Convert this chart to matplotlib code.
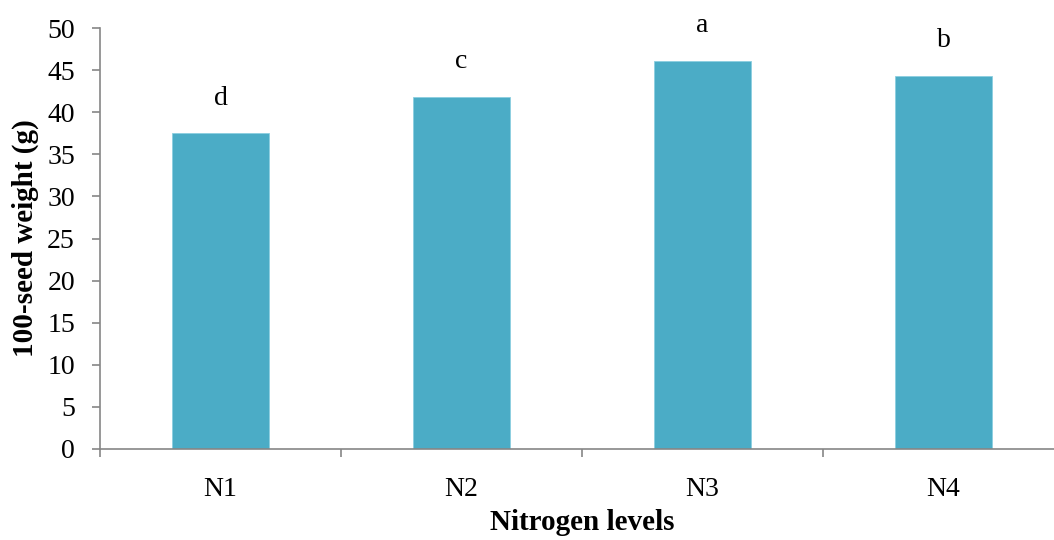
import numpy as np
import matplotlib
matplotlib.use("Agg")
import matplotlib.pyplot as plt

levels = ["N1", "N2", "N3", "N4"]
seed_weight = [37.5, 41.8, 46.1, 44.3]
letters = ["d", "c", "a", "b"]

plt.rcParams["font.family"] = ["Liberation Serif", "DejaVu Serif"]

fig = plt.figure(figsize=(10.54, 5.4), dpi=100)
ax = fig.add_axes([100/1054, 91/540, 964/1054, 421/540])

x = np.arange(len(levels))
ax.bar(x, seed_weight, width=0.4, color="#4BACC6", edgecolor="#8CCFE0", linewidth=0.6)

for xi, v, s in zip(x, seed_weight, letters):
    ax.text(xi, v + 3.4, s, ha="center", va="baseline", fontsize=20)

ax.set_xlim(-0.5, 3.5)
ax.set_ylim(0, 50)
ax.set_yticks(np.arange(0, 51, 5))
ax.set_xticks(x)
ax.set_xticklabels(levels, fontsize=20)
ax.set_xticks(np.arange(-0.5, 4, 1), minor=True)
ax.tick_params(axis="x", which="major", length=0, pad=20)
ax.tick_params(axis="x", which="minor", length=6, width=1.2, color="#868686", direction="out")
ax.tick_params(axis="y", length=6, width=1.2, color="#868686", pad=12, labelsize=20)

for sp in ["top", "right"]:
    ax.spines[sp].set_visible(False)
for sp in ["left", "bottom"]:
    ax.spines[sp].set_color("#868686")
    ax.spines[sp].set_linewidth(1.2)

ax.set_xlabel("Nitrogen levels", fontsize=21, fontweight="bold", labelpad=5)
ax.set_ylabel("100-seed weight (g)", fontsize=21, fontweight="bold", labelpad=6)

fig.savefig("out.png", dpi=100)
